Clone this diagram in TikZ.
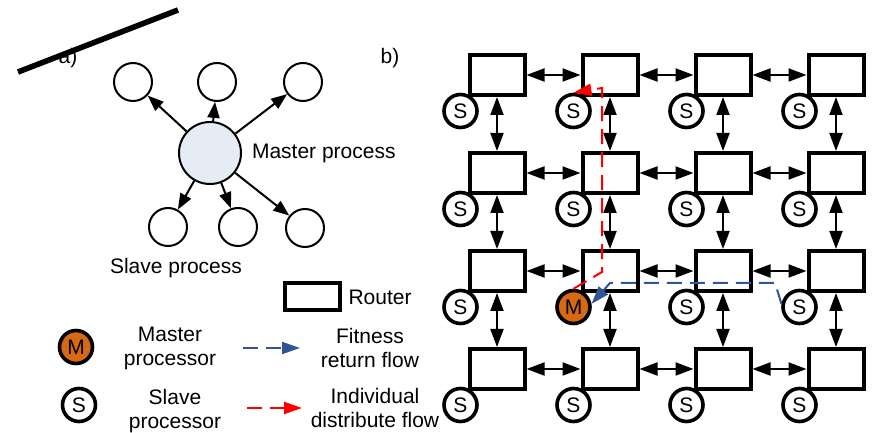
\documentclass[tikz,border=0pt]{standalone}
\usepackage{fontspec}
\setmainfont{Liberation Sans}
\usetikzlibrary{positioning,arrows.meta}
\definecolor{masterfill}{RGB}{230,236,246}
\definecolor{mastercol}{RGB}{214,105,18}
\definecolor{fitblue}{RGB}{47,85,151}

\begin{document}
\begin{tikzpicture}[x=0.5pt,y=-0.5pt,node distance=27pt,
  >={Triangle[length=9pt,width=6.5pt]},
  font=\fontsize{10.5}{12}\selectfont,
  proc node/.style={circle,draw,line width=1pt,minimum size=19pt,inner sep=0pt},
  router/.style={draw,line width=2pt,minimum width=27.5pt,minimum height=20pt,inner sep=0pt},
  slave node/.style={circle,draw,fill=white,line width=1.8pt,minimum size=16.5pt,inner sep=0pt,
    font=\fontsize{10.5}{12}\selectfont},
  master node/.style={slave node,fill=mastercol},
  sw slave/.style={xshift=-3.5pt,yshift=-7pt},
  flow/.style={->,line width=1pt,dash pattern=on 7.5pt off 4pt,>={Triangle[length=9pt,width=6pt]}}]

  \useasboundingbox (0,0) rectangle (875,433);

  % a) master / slave model
  \node (a) at (68,58) {a)};
  \node (b) at (390,58) {b)};
  \draw[line width=2.8pt] (18,72) -- (178,10);

  \node[proc node, fill=masterfill, minimum size=31pt] (m) at (210,153) {};
  \node[anchor=west] (mlabel) at (245,153) {Master process};
  \node[proc node] (1) at (133,82) {};
  \node[proc node] (2) at (217,82) {};
  \node[proc node] (3) at (303,82) {};
  \node[proc node] (4) at (168,227) {};
  \node[proc node] (5) at (238,227) {};
  \node[proc node] (6) at (305,228) {};
  \node (slabel) at (176,268) {Slave process};

  \path[->, line width=1pt, >={Triangle[length=8pt,width=6pt]}]
    (m) edge (1)
        edge (2)
        edge (3)
        edge (4)
        edge (5)
        edge (6);

  % b) mesh of routers
  \node[router] (r11) at (497,75) {};
  \node[router, right=of r11] (r12) {};
  \node[router, right=of r12] (r13) {};
  \node[router, right=of r13] (r14) {};
  \node[router, below=of r11] (r21) {};
  \node[router, right=of r21] (r22) {};
  \node[router, right=of r22] (r23) {};
  \node[router, right=of r23] (r24) {};
  \node[router, below=of r21] (r31) {};
  \node[router, right=of r31] (r32) {};
  \node[router, right=of r32] (r33) {};
  \node[router, right=of r33] (r34) {};
  \node[router, below=of r31] (r41) {};
  \node[router, right=of r41] (r42) {};
  \node[router, right=of r42] (r43) {};
  \node[router, right=of r43] (r44) {};

  \path[<->, line width=1pt]
    (r11) edge (r12) edge (r21)
    (r12) edge (r13) edge (r22)
    (r13) edge (r14) edge (r23)
    (r14) edge (r24)
    (r21) edge (r22) edge (r31)
    (r22) edge (r23) edge (r32)
    (r23) edge (r24) edge (r33)
    (r24) edge (r34)
    (r31) edge (r32) edge (r41)
    (r32) edge (r33) edge (r42)
    (r33) edge (r34) edge (r43)
    (r34) edge (r44)
    (r41) edge (r42)
    (r42) edge (r43)
    (r43) edge (r44);

  \node[slave node, sw slave] (s11) at (r11.south west) {S};
  \node[slave node, sw slave] (s12) at (r12.south west) {S};
  \node[slave node, sw slave] (s13) at (r13.south west) {S};
  \node[slave node, sw slave] (s14) at (r14.south west) {S};
  \node[slave node, sw slave] (s21) at (r21.south west) {S};
  \node[slave node, sw slave] (s22) at (r22.south west) {S};
  \node[slave node, sw slave] (s23) at (r23.south west) {S};
  \node[slave node, sw slave] (s24) at (r24.south west) {S};
  \node[slave node, sw slave] (s31) at (r31.south west) {S};
  \node[master node, sw slave] (s32) at (r32.south west) {M};
  \node[slave node, sw slave] (s33) at (r33.south west) {S};
  \node[slave node, sw slave] (s34) at (r34.south west) {S};
  \node[slave node, sw slave] (s41) at (r41.south west) {S};
  \node[slave node, sw slave] (s42) at (r42.south west) {S};
  \node[slave node, sw slave] (s43) at (r43.south west) {S};
  \node[slave node, sw slave] (s44) at (r44.south west) {S};

  % flows
  \draw[flow, red] (s32.north) -- (602,272) -- (602,88) -- (s12.north);
  \draw[flow, fitblue] (s34.170) -- (775,283) -- (610,283) -- (s32.10);

  % legend
  \node[router, minimum height=13.5pt] (lr) at (312,297) {};
  \node[right=0pt of lr] (lrlabel) {Router};
  \node[master node] (lm) at (76,347) {M};
  \node[align=center] (lmtext) at (170,348) {Master\\processor};
  \coordinate (fb1) at (243,348);
  \coordinate (fb2) at (300,348);
  \node[align=center] (fbtext) at (370,348) {Fitness\\return flow};
  \node[slave node] (ls) at (79,405) {S};
  \node[align=center] (lstext) at (175,411) {Slave\\processor};
  \coordinate (id1) at (247,408);
  \coordinate (id2) at (302,408);
  \node[align=center] (idtext) at (375,408) {Individual\\distribute flow};
  \draw[flow, fitblue] (fb1) -- (fb2);
  \draw[flow, red] (id1) -- (id2);
\end{tikzpicture}
\end{document}
